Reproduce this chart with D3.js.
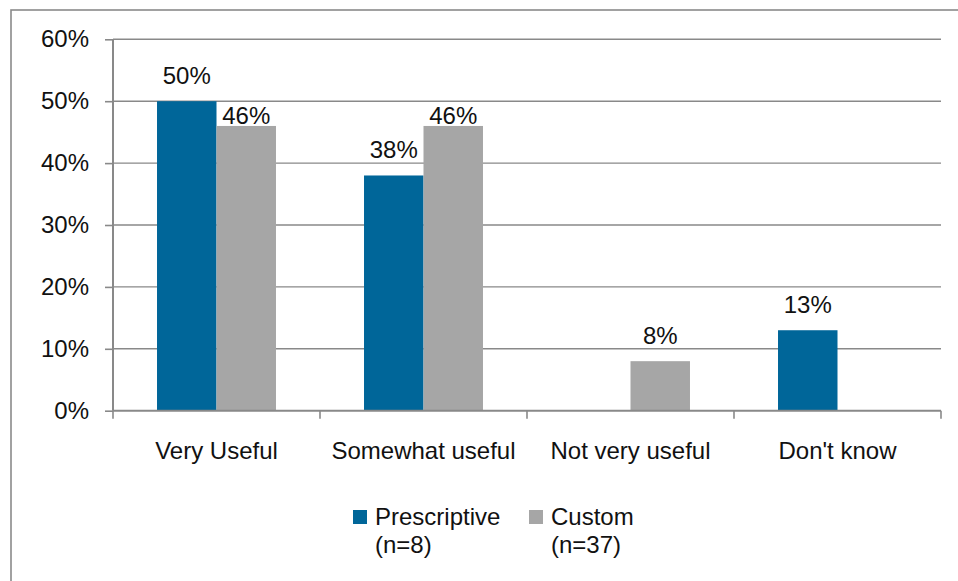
<!DOCTYPE html>
<html>
<head>
<meta charset="utf-8">
<script src="https://cdn.jsdelivr.net/npm/d3@7"></script>
<style>
    html, body { margin: 0; padding: 0; background: #fff; }
    svg { display: block; font-family: "Liberation Sans", Arial, sans-serif; }
    .grid line { stroke: #898989; stroke-width: 1.4; }
</style>
</head>
<body>
<div id="chart"></div>
<script>
(function () {
    'use strict';

    // --- DATA ---
    const categories = ["Very Useful", "Somewhat useful", "Not very useful", "Don't know"];
    const seriesNames = ["Prescriptive", "Custom"];
    const seriesNotes = ["(n=8)", "(n=37)"];
    const prescriptive = [50, 38, 0, 13];
    const custom = [46, 46, 8, 0];
    const yTicks = [0, 10, 20, 30, 40, 50, 60];

    const colors = { Prescriptive: "#006699", Custom: "#a6a6a6" };
    const fontSize = "24px";

    const W = 958, H = 581;
    const plot = { left: 113, right: 941, top: 39.3, bottom: 410.7 };

    const svg = d3.select("#chart").append("svg")
        .attr("width", W).attr("height", H);

    // outer frame (right and bottom edges are off canvas)
    svg.append("rect")
        .attr("x", 11).attr("y", 10)
        .attr("width", W + 20).attr("height", H + 20)
        .attr("fill", "none").attr("stroke", "#8a8a8a").attr("stroke-width", 1.6);

    // --- SCALES ---
    const y = d3.scaleLinear().domain([0, 60]).range([plot.bottom, plot.top]);
    const x0 = d3.scaleBand().domain(categories).range([plot.left, plot.right]).padding(0);
    const x1 = d3.scaleBand().domain(seriesNames).range([0, x0.bandwidth()])
        .paddingInner(0).paddingOuter(0.74);

    const rows = categories.map((c, i) => ({
        cat: c,
        values: [
            { s: "Prescriptive", v: prescriptive[i] },
            { s: "Custom", v: custom[i] }
        ]
    }));

    // gridlines
    svg.append("g").attr("class", "grid")
        .selectAll("line").data(yTicks.filter(d => d > 0)).enter().append("line")
        .attr("x1", plot.left).attr("x2", plot.right)
        .attr("y1", d => y(d)).attr("y2", d => y(d));

    // y axis
    const yAxis = svg.append("g").attr("transform", `translate(${plot.left},0)`)
        .call(d3.axisLeft(y).tickValues(yTicks).tickSize(8).tickPadding(16).tickFormat(d => d + "%"));
    yAxis.select(".domain").attr("d", `M0,${plot.top}V${plot.bottom}`)
        .attr("stroke", "#898989").attr("stroke-width", 2);
    yAxis.selectAll(".tick line").attr("stroke", "#898989").attr("stroke-width", 1.6);
    yAxis.selectAll(".tick text")
        .style("font-size", fontSize).style("font-family", "inherit").attr("fill", "#111");

    // bars
    const groups = svg.selectAll(".cat").data(rows).enter().append("g")
        .attr("transform", d => `translate(${x0(d.cat)},0)`);

    groups.selectAll("rect").data(d => d.values.filter(v => v.v > 0)).enter().append("rect")
        .attr("x", d => x1(d.s))
        .attr("width", x1.bandwidth())
        .attr("y", d => y(d.v))
        .attr("height", d => y(0) - y(d.v))
        .attr("fill", d => colors[d.s]);

    // value labels: the custom 46% labels sit tight on their bars
    const labelGap = d => (d.s === "Custom" && d.v >= 45) ? 2 : 17;
    groups.selectAll("text.val").data(d => d.values.filter(v => v.v > 0)).enter().append("text")
        .attr("class", "val")
        .attr("x", d => x1(d.s) + x1.bandwidth() / 2)
        .attr("y", d => y(d.v) - labelGap(d))
        .attr("text-anchor", "middle")
        .style("font-size", fontSize).attr("fill", "#111")
        .text(d => d.v + "%");

    // x axis
    const xAxis = svg.append("g").attr("transform", `translate(0,${plot.bottom})`);
    xAxis.append("line")
        .attr("x1", plot.left).attr("x2", plot.right)
        .attr("stroke", "#898989").attr("stroke-width", 2);
    const bounds = categories.map(c => x0(c)).concat([plot.right]);
    xAxis.selectAll("line.tk").data(bounds).enter().append("line")
        .attr("class", "tk")
        .attr("x1", d => d).attr("x2", d => d)
        .attr("y1", 0).attr("y2", 8)
        .attr("stroke", "#898989").attr("stroke-width", 1.6);
    xAxis.selectAll("text").data(categories).enter().append("text")
        .attr("x", d => x0(d) + x0.bandwidth() / 2)
        .attr("y", 48)
        .attr("text-anchor", "middle")
        .style("font-size", fontSize).attr("fill", "#111")
        .text(d => d);

    // legend
    const legendX = [353, 529];
    const legend = svg.selectAll(".leg").data(seriesNames).enter().append("g")
        .attr("transform", (d, i) => `translate(${legendX[i]},510)`);
    legend.append("rect")
        .attr("width", 14).attr("height", 14)
        .attr("fill", d => colors[d]);
    legend.append("text")
        .attr("x", 22).attr("y", 15)
        .style("font-size", fontSize).attr("fill", "#111")
        .text(d => d);
    legend.append("text")
        .attr("x", 22).attr("y", 43)
        .style("font-size", fontSize).attr("fill", "#111")
        .text((d, i) => seriesNotes[i]);
})();
</script>
</body>
</html>
